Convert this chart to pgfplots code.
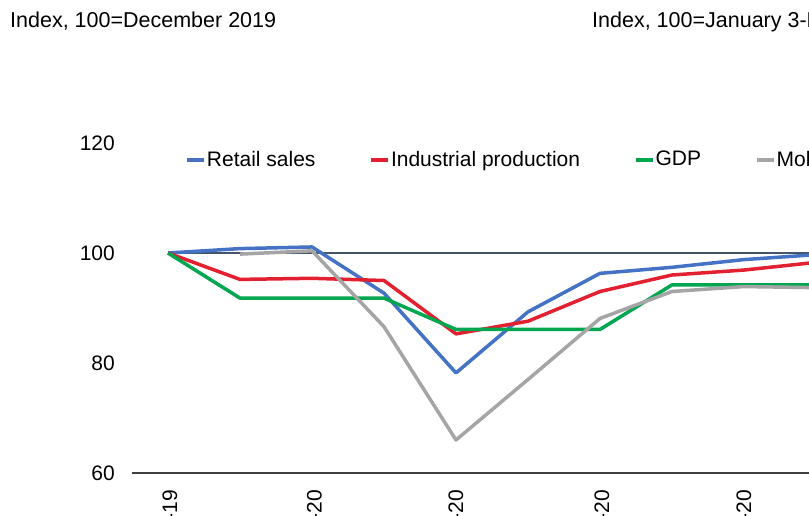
\documentclass[border=0pt]{standalone}
\usepackage{fontspec}
\setmainfont{Liberation Sans}
\usepackage{pgfplots}
\pgfplotsset{compat=1.18}
\definecolor{cblue}{HTML}{4472C4}
\definecolor{cred}{HTML}{E2202F}
\definecolor{cgreen}{HTML}{00A650}
\definecolor{cgray}{HTML}{A5A5A5}
\definecolor{cnavy}{HTML}{44546A}
\definecolor{caxis}{HTML}{404040}
\begin{document}
\fontsize{21}{25}\selectfont
\begin{tikzpicture}
\useasboundingbox (0pt,0pt) rectangle (809pt,515pt);
\clip (0pt,0pt) rectangle (809pt,515pt);
\node[anchor=base west, inner sep=0] at (10pt,487pt) {\fontsize{21.5}{25}\selectfont Index, 100=December 2019};
\node[anchor=base west, inner sep=0] at (592pt,487pt) {\fontsize{21.5}{25}\selectfont Index, 100=January 3-February 6, 2020};
\begin{axis}[name=ax,
  at={(132pt,42pt)}, anchor=south west,
  scale only axis, width=720pt, height=330pt,
  xmin=-0.5, xmax=9.5, ymin=60, ymax=120,
  ytick={60,80,100,120},
  xtick={0,2,4,6,8},
  xticklabels={Dec-19,Feb-20,Apr-20,Jun-20,Aug-20},
  axis x line*=bottom, axis y line*=left,
  y axis line style={draw=none},
  x axis line style={line width=1.5pt, color=caxis},
  major tick length=0pt,
  /pgf/number format/assume math mode=true,
  yticklabel style={inner sep=0pt, anchor=east, xshift=-17pt, font=\fontsize{21}{25}\selectfont},
  xticklabel style={inner sep=0pt, xshift=2pt, yshift=-17pt, rotate=90, anchor=east, font=\fontsize{21}{25}\selectfont},
  legend style={at={(axis description cs:0.074,0.948)}, anchor=west, draw=none, fill=none,
    inner sep=0pt, nodes={inner sep=1pt}, font=\fontsize{21}{25}\selectfont,
    /tikz/every even column/.append style={column sep=53pt}},
  legend columns=-1,
  legend cell align=left,
  legend image code/.code={\draw[#1] (0pt,0pt) -- (17pt,0pt);},
  every axis plot/.append style={line width=3.5pt, line join=round},
]
\addplot[cnavy, line width=1.3pt, forget plot] coordinates {(0,100) (9.5,100)};
\addplot[cblue] coordinates {(0,100) (1,100.8) (2,101.1) (3,92.7) (4,78.2) (5,89.3) (6,96.3) (7,97.4) (8,98.8) (9,99.7)};
\addlegendentry{Retail sales}
\addplot[cred] coordinates {(0,100) (1,95.2) (2,95.4) (3,95.0) (4,85.3) (5,87.6) (6,93.0) (7,96.0) (8,96.9) (9,98.3)};
\addlegendentry{Industrial production}
\addplot[cgreen] coordinates {(0,100) (1,91.8) (2,91.8) (3,91.8) (4,86.1) (5,86.1) (6,86.1) (7,94.2) (8,94.2) (9,94.2)};
\addlegendentry{GDP}
\addplot[cgray] coordinates {(1,99.8) (2,100.4) (3,86.6) (4,66.0) (5,77.0) (6,88.1) (7,93.0) (8,93.9) (9,93.7)};
\addlegendentry{Mobility}
\end{axis}
\end{tikzpicture}
\end{document}
